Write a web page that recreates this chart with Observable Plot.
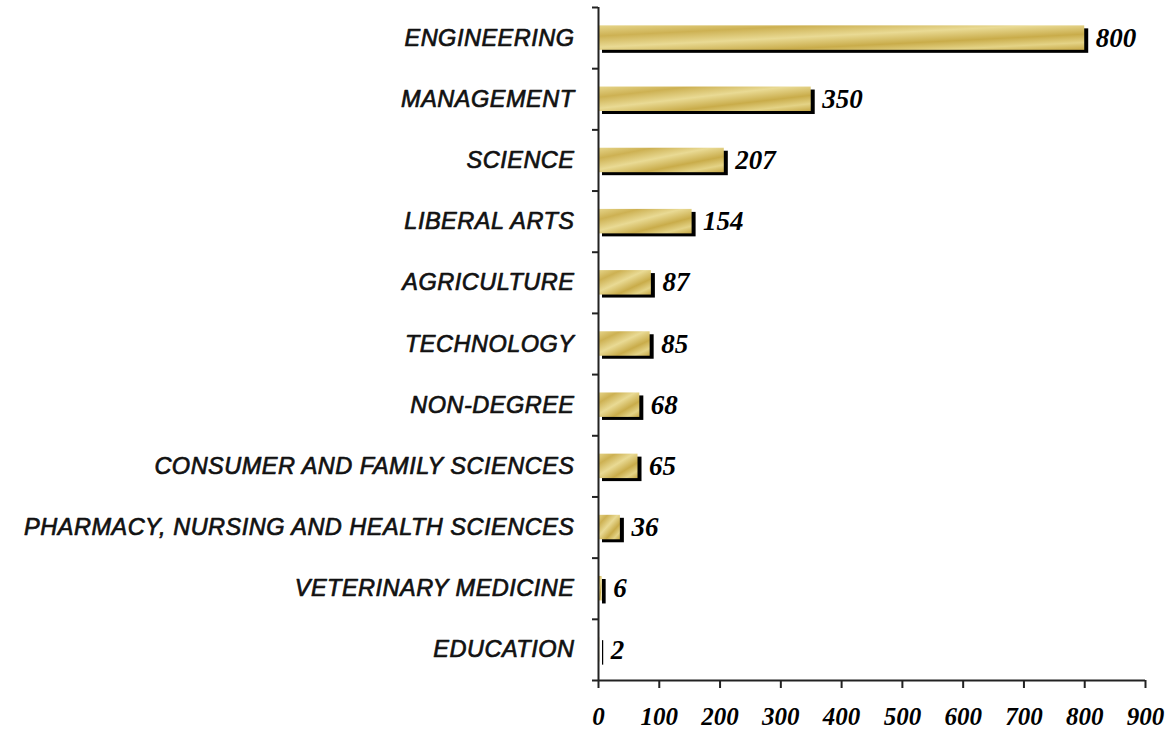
<!DOCTYPE html>
<html>
<head>
<meta charset="utf-8">
<script src="https://cdn.jsdelivr.net/npm/d3@7"></script>
<script src="https://cdn.jsdelivr.net/npm/@observablehq/plot@0.6"></script>
<style>
  html, body { margin: 0; padding: 0; background: #ffffff; }
  #chart svg { display: block; }
</style>
</head>
<body>
<div id="chart"></div>
<script>
const categories = [
  "ENGINEERING",
  "MANAGEMENT",
  "SCIENCE",
  "LIBERAL ARTS",
  "AGRICULTURE",
  "TECHNOLOGY",
  "NON-DEGREE",
  "CONSUMER AND FAMILY SCIENCES",
  "PHARMACY, NURSING AND HEALTH SCIENCES",
  "VETERINARY MEDICINE",
  "EDUCATION"
];
const values = [800, 350, 207, 154, 87, 85, 68, 65, 36, 6, 2];
const xTicks = [0, 100, 200, 300, 400, 500, 600, 700, 800, 900];

const data = categories.map((c, i) => ({category: c, value: values[i], i}));
const boundaries = d3.range(0, categories.length + 1);

const sans = "'Liberation Sans', Arial, sans-serif";
const serif = "'Liberation Serif', 'Times New Roman', serif";

const chart = Plot.plot({
  width: 1170,
  height: 731,
  marginLeft: 598,
  marginRight: 25,
  marginTop: 7,
  marginBottom: 51,
  style: {background: "#ffffff", color: "#000"},
  x: {domain: [0, 900]},
  y: {domain: [0, categories.length], reverse: true},
  marks: [
    // shadow
    Plot.rectX(data, {x1: 0, x2: "value", y1: d => d.i + 0.3, y2: d => d.i + 0.7, dx: 4, dy: 3, fill: "#000"}),
    // gold bar
    Plot.rectX(data, {x1: 0, x2: "value", y1: d => d.i + 0.3, y2: d => d.i + 0.7, fill: "url(#goldGrad)"}),
    // value labels
    Plot.text(data, {
      x: "value", y: d => d.i + 0.5, text: d => String(d.value),
      dx: 11, textAnchor: "start", fontFamily: serif, fontWeight: "bold",
      fontStyle: "italic", fontSize: 27, fill: "#000"
    }),
    // category labels
    Plot.text(data, {
      x: 0, y: d => d.i + 0.5, text: "category",
      dx: -24, textAnchor: "end", fontFamily: sans, fontStyle: "italic",
      fontSize: 23.5, fill: "#111", stroke: "#111", strokeWidth: 0.7
    }),
    // y boundary ticks
    Plot.axisY(boundaries, {tickSize: 6, tickFormat: () => "", stroke: "#222", strokeWidth: 2, label: null}),
    // x axis
    Plot.axisX(xTicks, {
      tickSize: 8, tickPadding: 19, stroke: "#222", strokeWidth: 2,
      fontFamily: serif, fontWeight: "bold", fontStyle: "italic", fontSize: 25, fill: "#000", label: null
    }),
    Plot.ruleX([0], {stroke: "#222", strokeWidth: 2}),
    Plot.ruleY([categories.length], {stroke: "#222", strokeWidth: 2})
  ]
});

// letter spacing for the sans-serif category labels
d3.select(chart).selectAll("g").filter(function() {
  const f = this.getAttribute("font-family");
  return f && f.includes("Liberation Sans");
}).style("letter-spacing", "0.5px");

const ns = "http://www.w3.org/2000/svg";
const defs = document.createElementNS(ns, "defs");
const grad = document.createElementNS(ns, "linearGradient");
grad.setAttribute("id", "goldGrad");
grad.setAttribute("x1", "0");
grad.setAttribute("y1", "0");
grad.setAttribute("x2", "1");
grad.setAttribute("y2", "1");
const stops = [
  [0, "#e6d58a"], [0.22, "#cdb153"], [0.45, "#e9da94"], [0.68, "#c9ac4a"],
  [0.85, "#e4d386"], [1, "#c6a846"]
];
for (const [o, c] of stops) {
  const s = document.createElementNS(ns, "stop");
  s.setAttribute("offset", o);
  s.setAttribute("stop-color", c);
  grad.appendChild(s);
}
defs.appendChild(grad);
chart.insertBefore(defs, chart.firstChild);

document.getElementById("chart").appendChild(chart);
</script>
</body>
</html>
